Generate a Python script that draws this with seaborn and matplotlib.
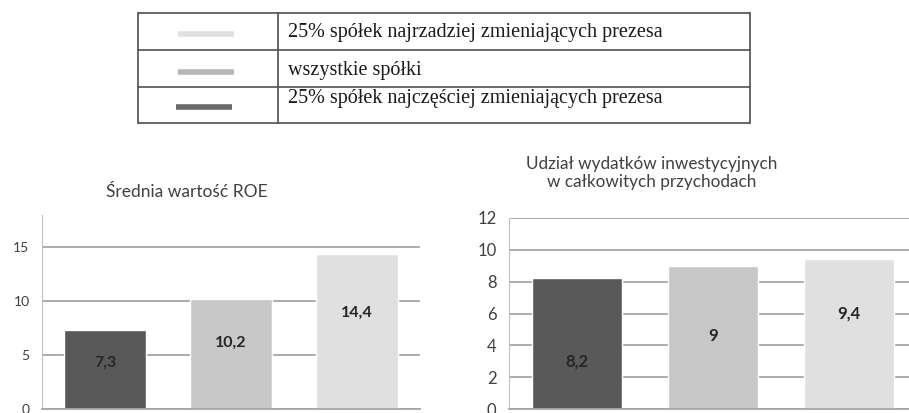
import matplotlib
matplotlib.use("Agg")
import matplotlib.pyplot as plt
import seaborn as sns
import pandas as pd
from matplotlib.lines import Line2D

# dane
grupy = ['25% spółek najczęściej zmieniających prezesa',
         'wszystkie spółki',
         '25% spółek najrzadziej zmieniających prezesa']
roe = [7.3, 10.2, 14.4]
inwestycje = [8.2, 9.0, 9.4]
etykiety_roe = ['7,3', '10,2', '14,4']
etykiety_inw = ['8,2', '9', '9,4']

kolory = ['#595959', '#c8c8c8', '#e0e0e0']
kolory_legendy = ['#e0e0e0', '#b6b6b6', '#6a6a6a']
siatka = '#a6a6a6'
tekst = '#404040'

W, H = 909, 413
sns.set_style('white')
plt.rcParams['font.family'] = ['Lato', 'DejaVu Sans']

fig = plt.figure(figsize=(W / 100, H / 100), dpi=100)


def px_ax(x0, y_top, x1, y_bot):
    return fig.add_axes([x0 / W, 1 - y_bot / H, (x1 - x0) / W, (y_bot - y_top) / H])


def wykres(ax, wartosci, etykiety, ymax, krok, frakcje, tick_fs, lab_fs):
    df = pd.DataFrame({'grupa': grupy, 'wartosc': wartosci})
    sns.barplot(data=df, x='grupa', y='wartosc', hue='grupa', palette=kolory,
                width=0.655, legend=False, ax=ax, saturation=1, zorder=2)
    ax.set_xlim(-0.5, 2.5)
    ax.set_ylim(0, ymax)
    ax.set_yticks(range(0, int(ymax) + 1, krok))
    ax.grid(axis='y', color=siatka, linewidth=1.3, zorder=0)
    ax.set_axisbelow(True)
    for s in ['top', 'right']:
        ax.spines[s].set_visible(False)
    ax.spines['left'].set_color('#c0c0c0')
    ax.spines['bottom'].set_color(siatka)
    ax.spines['bottom'].set_linewidth(1.3)
    ax.tick_params(axis='y', length=6, color=siatka, width=1.3, labelsize=tick_fs,
                   labelcolor=tekst, pad=3)
    ax.tick_params(axis='x', length=0, labelbottom=False)
    ax.set_xlabel('')
    ax.set_ylabel('')
    for i, (v, e) in enumerate(zip(wartosci, etykiety)):
        ax.text(i, v * frakcje[i], e, ha='center', va='center', fontsize=lab_fs,
                fontweight='bold', color='#262626', zorder=3)


ax1 = px_ax(42, 215, 420, 409)
wykres(ax1, roe, etykiety_roe, 18, 5, [0.59, 0.60, 0.62], 10, 11.5)

ax2 = px_ax(509, 218, 917, 409)
wykres(ax2, inwestycje, etykiety_inw, 12, 2, [0.36, 0.51, 0.635], 12, 12)

fig.text(187 / W, 1 - 192 / H, 'Średnia wartość ROE', ha='center', va='center',
         fontsize=12.5, color=tekst)
fig.text(652 / W, 1 - 173 / H, 'Udział wydatków inwestycyjnych\nw całkowitych przychodach',
         ha='center', va='center', fontsize=12.3, color=tekst, linespacing=1.2)

# tabela legendy
ramka = '#505050'
xl, xm, xr = 138, 278, 750
ys = [13, 50, 87, 123]


def linia(xs, yy, **kw):
    fig.add_artist(Line2D([x / W for x in xs], [1 - y / H for y in yy],
                          transform=fig.transFigure, **kw))


for y in ys:
    linia([xl, xr], [y, y], color=ramka, linewidth=1.2)
for x in [xl, xm, xr]:
    linia([x, x], [ys[0], ys[-1]], color=ramka, linewidth=1.2)

wpisy = [grupy[2], grupy[1], grupy[0]]
y_prob = [34, 72, 107]
y_tekst = [33, 70, 99]
x_prob = [(178, 234), (178, 234), (176, 232)]
for i, nazwa in enumerate(wpisy):
    linia(list(x_prob[i]), [y_prob[i], y_prob[i]], color=kolory_legendy[i],
          linewidth=4, solid_capstyle='butt')
    fig.text(288 / W, 1 - y_tekst[i] / H, nazwa, ha='left', va='center',
             fontsize=14.5, color='#1a1a1a', family='Liberation Serif')

fig.savefig('out.png', dpi=100)
